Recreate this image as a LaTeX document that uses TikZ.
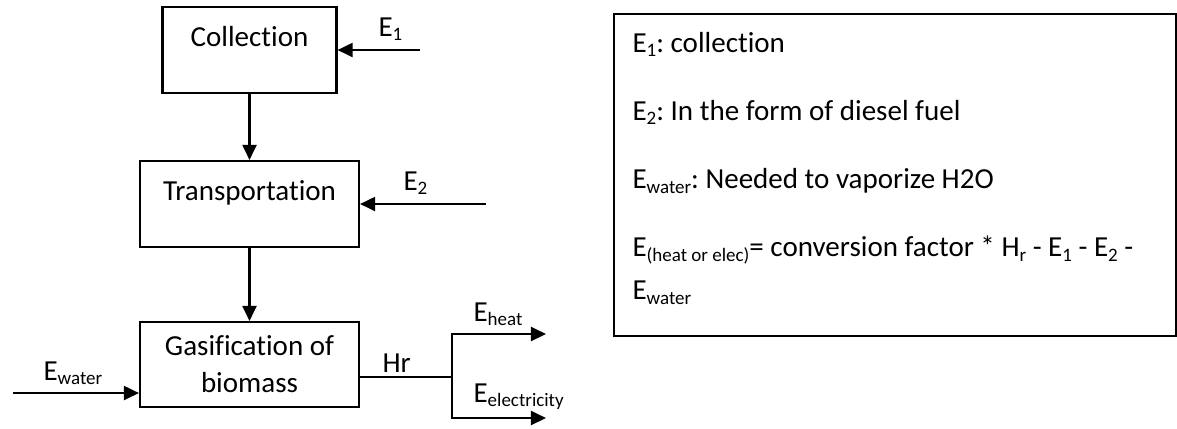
\documentclass[tikz,border=0pt]{standalone}
\usepackage{fontspec}
\setmainfont{Carlito}[Ligatures=NoCommon]
\usepackage{tikz}
\usetikzlibrary{arrows.meta,positioning}
\newcommand{\lowsub}[1]{\raisebox{-1.6pt}{\fontsize{7.2}{8}\selectfont #1}}
\frenchspacing

\begin{document}
\begin{tikzpicture}[x=0.379pt,y=-0.379pt,
    font=\fontsize{11}{14}\selectfont,
    stagebox/.style={draw,line width=0.8pt,inner sep=0pt,align=center,
      minimum width=219*0.379pt,minimum height=86*0.379pt},
    topline/.style={text height=8pt,text depth=10.9pt},
    elabel/.style={anchor=base west,inner sep=0pt},
    flow/.style={line width=0.8pt,-{Triangle[length=5.7pt,width=5.3pt]}},
    plain/.style={line width=0.8pt}
  ]
    \useasboundingbox (0,0) rectangle (1177,428);

    \node[stagebox,topline,minimum width=174*0.379pt] (collect) at (249.5,50) {Collection};
    \node[stagebox,topline] (trans) at (249.5,204) {Transportation};
    \node[stagebox,minimum height=85*0.379pt] (gasif) at (249.5,364.5)
      {Gasification of\\biomass};

    \coordinate (e1in) at (420,50);
    \coordinate (e2in) at (486,204);
    \coordinate (win) at (13,393);
    \coordinate (hr) at (452,377);
    \coordinate (heatout) at (546,334);
    \coordinate (elecout) at (546,418);

    \draw[flow] (e1in) -- (collect.east);
    \draw[flow] (collect.south) -- (trans.north);
    \draw[flow] (e2in) -- (trans.east);
    \draw[flow] (trans.south) -- (gasif.north);
    \draw[flow] (win) -- (win -| gasif.west);
    \draw[plain] (hr -| gasif.east) -- (hr);
    \draw[flow] (hr) |- (heatout);
    \draw[flow] (hr) |- (elecout);

    \node[elabel] (e1) at (378,36) {E\lowsub{1}};
    \node[elabel] (e2) at (403,190) {E\lowsub{2}};
    \node[elabel] (ewater) at (43,380) {E\lowsub{water}};
    \node[elabel] (hrlabel) at (382,372) {Hr};
    \node[elabel] (eheat) at (473,321) {E\lowsub{heat}};
    \node[elabel] (eelec) at (473,402) {E\lowsub{electricity}};

    \node[draw,line width=0.8pt,anchor=north west,inner sep=0pt,
      minimum width=562*0.379pt,minimum height=322*0.379pt] (notes) at (613,13) {};
    \node[anchor=north west,inner sep=0pt,align=left,
      font=\fontsize{11}{16.3}\selectfont] (notetext) at (632,32)
      {E\lowsub{1}: collection\\[9.5pt]
       E\lowsub{2}: In the form of diesel fuel\\[9.5pt]
       E\lowsub{water}: Needed to vaporize H2O\\[9.5pt]
       E\lowsub{(heat or elec)}= conversion factor * H\lowsub{r} - E\lowsub{1} - E\lowsub{2} -\\
       E\lowsub{water}};
  \end{tikzpicture}
\end{document}
